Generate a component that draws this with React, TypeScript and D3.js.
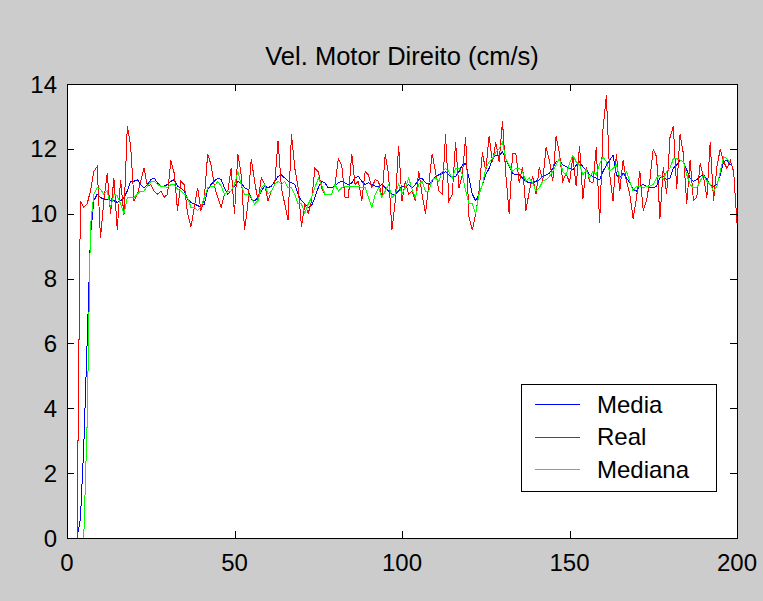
import * as d3 from "d3";

// samples 1..200
const real = [
  0, 0, 0, 10.4, 10.2, 10.3, 10.7, 11.3, 11.45, 9.25,
  10.4, 11.25, 10.0, 11.1, 9.5, 11.05, 9.95, 12.7, 12.1, 10.4,
  10.6, 11.0, 11.4, 10.85, 10.9, 10.7, 10.6, 10.7, 10.5, 10.6,
  11.65, 11.25, 10.1, 11.0, 10.9, 10.0, 9.6, 10.2, 10.8, 10.1,
  10.5, 11.85, 11.5, 10.85, 10.5, 10.2, 10.6, 10.7, 11.4, 10.0,
  11.85, 11.2, 9.5, 10.3, 11.7, 11.0, 10.4, 11.1, 10.9, 10.4,
  10.7, 10.9, 12.25, 10.8, 10.3, 9.8, 12.45, 11.4, 10.8, 9.6,
  10.3, 10.0, 10.4, 11.4, 11.3, 10.8, 10.6, 10.6, 10.6, 10.9,
  11.7, 11.5, 10.5, 10.5, 11.85, 10.9, 11.0, 10.4, 11.3, 11.2,
  10.8, 11.05, 11.0, 10.5, 11.85, 11.2, 9.5, 10.4, 12.1, 10.4,
  11.0, 10.6, 10.7, 10.4, 11.3, 10.6, 10.0, 10.9, 11.85, 11.3,
  10.7, 10.6, 12.45, 10.4, 10.6, 12.2, 10.8, 11.2, 12.35, 9.9,
  9.5, 10.0, 10.7, 11.9, 11.3, 12.4, 11.6, 12.2, 11.6, 12.85,
  11.2, 10.0, 11.85, 11.85, 10.95, 11.45, 10.1, 10.7, 11.15, 10.6,
  11.45, 11.0, 12.05, 11.65, 11.0, 12.4, 11.85, 11.0, 11.25, 10.95,
  11.75, 10.85, 12.1, 10.45, 11.45, 11.0, 10.95, 12.05, 9.7, 12.6,
  13.65, 11.2, 10.4, 11.85, 10.7, 11.65, 11.0, 10.6, 9.85, 10.5,
  11.3, 10.1, 10.4, 11.05, 12.0, 11.75, 9.85, 11.45, 10.6, 12.35,
  12.7, 10.75, 12.45, 11.85, 10.3, 11.65, 10.4, 10.5, 11.55, 11.15,
  10.5, 12.2, 10.4, 11.45, 12.0, 11.6, 11.4, 11.65, 11.3, 9.7,
];

const media = [
  0, 0, 0, 0.6, 2.8, 6.0, 9.3, 10.4, 10.6, 10.5,
  10.45, 10.45, 10.4, 10.4, 10.35, 10.4, 10.5, 10.7, 11.0, 11.0,
  11.05, 10.9, 10.8, 10.9, 11.05, 11.1, 10.95, 10.85, 10.85, 10.9,
  11.0, 11.05, 10.85, 10.8, 10.7, 10.45, 10.35, 10.3, 10.25, 10.2,
  10.3, 10.75, 10.9, 11.0, 11.1, 11.05, 10.8, 10.6, 10.7, 10.85,
  11.0, 10.95, 10.8, 10.75, 10.45, 10.4, 10.5, 10.7, 10.85, 10.8,
  10.85, 11.0, 11.15, 11.2, 11.1, 11.0, 10.95, 10.9, 10.6, 10.4,
  10.3, 10.2, 10.25, 10.5, 10.8, 11.0, 10.95, 10.8, 10.8, 10.85,
  10.95, 11.0, 10.95, 10.9, 10.95, 11.1, 11.15, 11.0, 10.9, 10.95,
  10.9, 10.85, 10.85, 10.9, 10.8, 10.7, 10.6, 10.6, 10.7, 10.85,
  10.85, 10.9, 10.8, 10.9, 11.05, 11.1, 10.95, 10.9, 11.0, 11.15,
  11.2, 11.25, 11.3, 11.2, 11.1, 11.15, 11.3, 11.5, 11.55, 11.1,
  10.6, 10.4, 10.6, 10.9, 11.2, 11.4, 11.7, 11.8, 11.8, 11.9,
  11.7, 11.45, 11.25, 11.2, 11.2, 11.1, 11.0, 10.95, 10.95, 11.0,
  11.05, 11.15, 11.2, 11.25, 11.4, 11.6, 11.65, 11.5, 11.45, 11.4,
  11.35, 11.5, 11.6, 11.45, 11.35, 11.2, 11.15, 11.1, 11.05, 11.3,
  11.5, 11.65, 11.8, 11.2, 11.1, 11.25, 11.1, 10.95, 10.75, 10.7,
  10.85, 10.9, 10.85, 10.8, 10.8, 10.85, 11.1, 11.15, 11.05, 11.1,
  11.4, 11.5, 11.65, 11.6, 11.35, 11.1, 11.0, 11.05, 11.15, 11.2,
  11.05, 10.9, 10.85, 10.9, 11.2, 11.6, 11.65, 11.5,
];

const mediana = [
  0, 0, 0, 0, 0, 3.5, 9.6, 10.6, 10.8, 10.75,
  10.6, 10.7, 10.2, 10.6, 10.55, 10.3, 10.0, 10.5, 10.5, 10.5,
  10.6, 10.7, 10.7, 10.85, 11.0, 11.0, 10.9, 10.85, 10.85, 10.8,
  10.9, 10.9, 10.75, 10.7, 10.6, 10.5, 10.2, 10.2, 10.1, 10.2,
  10.5, 10.8, 10.85, 10.85, 11.0, 10.85, 10.6, 10.7, 10.7, 10.9,
  11.3, 10.9, 10.6, 10.6, 10.5, 10.3, 10.4, 10.8, 10.9, 10.6,
  10.7, 10.9, 11.0, 10.9, 11.0, 10.8, 10.8, 10.6, 10.3, 10.3,
  10.0, 10.3, 10.5, 10.8, 11.1, 10.9, 10.6, 10.6, 10.6, 10.9,
  10.7, 10.8, 10.85, 10.85, 10.85, 10.85, 10.85, 10.8, 10.8, 10.5,
  10.2, 10.6, 10.8, 10.5, 10.7, 10.9, 10.5, 10.6, 10.9, 10.6,
  10.8, 11.1, 10.75, 10.5, 10.9, 11.0, 10.7, 10.7, 11.05, 11.1,
  11.0, 11.3, 11.4, 11.3, 11.1, 11.4, 11.4, 11.2, 10.7, 10.3,
  10.3, 10.0, 10.6, 10.9, 11.4, 11.6, 11.7, 11.9, 12.0, 12.2,
  11.7, 11.5, 11.3, 11.4, 11.4, 11.3, 11.0, 11.1, 10.95, 10.7,
  10.8, 11.0, 11.05, 11.15, 11.3, 11.5, 11.7, 11.3, 11.2, 11.55,
  11.8, 11.6, 11.5, 11.2, 11.35, 11.1, 11.3, 11.2, 11.55, 11.75,
  11.6, 11.3, 11.4, 11.5, 11.1, 11.2, 11.3, 11.0, 10.7, 10.85,
  10.85, 10.8, 10.85, 10.85, 10.9, 11.1, 11.2, 11.05, 11.3, 11.4,
  11.7, 11.7, 11.65, 11.6, 11.2, 10.9, 10.8, 10.8, 11.0, 11.2,
  11.0, 10.9, 10.7, 10.85, 11.3, 11.75, 11.7, 11.55,
];

const xTicks = [0, 50, 100, 150, 200];
const yTicks = [0, 2, 4, 6, 8, 10, 12, 14];
const legendItems = [
  { label: "Media", color: "#0000ff" },
  { label: "Real", color: "#ff0000" },
  { label: "Mediana", color: "#00ff00" },
];

export default function App() {
  const width = 763;
  const height = 601;
  const marginLeft = 67;
  const marginRight = 26;
  const marginTop = 84;
  const marginBottom = 63;
  const tick = 7;
  const font = "'Liberation Sans', Arial, Helvetica, sans-serif";

  const x = d3.scaleLinear().domain([0, 200]).range([marginLeft, width - marginRight]);
  const y = d3.scaleLinear().domain([0, 14]).range([height - marginBottom, marginTop]);

  const line = d3.line<number>()
    .x((d, i) => x(i + 1))
    .y(d => y(d));

  const [x0, x1] = x.range();
  const [y0, y1] = y.range();

  // legend box in the lower right corner
  const lgX = 521, lgY = 384, lgW = 195, lgH = 107;

  return (
    <svg width={width} height={height} style={{ position: "fixed", left: 0, top: 0 }} fontFamily={font}>
      <rect width={width} height={height} fill="#cccccc" />
      <rect x={x0} y={y1} width={x1 - x0} height={y0 - y1} fill="#ffffff" />

      <text x={(x0 + x1) / 2} y={65} textAnchor="middle" fontSize={25.5} fill="#000">
        Vel. Motor Direito (cm/s)
      </text>

      <g fill="none" strokeWidth={1} shapeRendering="crispEdges">
        <path d={line(media) ?? ""} stroke="#0000ff" />
        <path d={line(real) ?? ""} stroke="#ff0000" />
        <path d={line(mediana) ?? ""} stroke="#00ff00" />
      </g>

      <rect x={x0 + 0.5} y={y1 + 0.5} width={x1 - x0} height={y0 - y1} fill="none" stroke="#000" />

      {xTicks.map(t => (
        <g key={"x" + t}>
          <line x1={Math.round(x(t)) + 0.5} x2={Math.round(x(t)) + 0.5} y1={y0} y2={y0 - tick} stroke="#000" />
          <line x1={Math.round(x(t)) + 0.5} x2={Math.round(x(t)) + 0.5} y1={y1} y2={y1 + tick} stroke="#000" />
          <text x={x(t)} y={571} textAnchor="middle" fontSize={24}>{t}</text>
        </g>
      ))}
      {yTicks.map(t => (
        <g key={"y" + t}>
          <line x1={x0} x2={x0 + tick} y1={Math.round(y(t)) + 0.5} y2={Math.round(y(t)) + 0.5} stroke="#000" />
          <line x1={x1} x2={x1 - tick} y1={Math.round(y(t)) + 0.5} y2={Math.round(y(t)) + 0.5} stroke="#000" />
          <text x={57} y={y(t)} dy="0.36em" textAnchor="end" fontSize={24}>{t}</text>
        </g>
      ))}

      <g>
        <rect x={lgX + 0.5} y={lgY + 0.5} width={lgW} height={lgH} fill="#ffffff" stroke="#000" />
        {legendItems.map((d, i) => {
          const ly = lgY + 20 + i * 32.7;
          return (
            <g key={d.label}>
              <line x1={lgX + 14} x2={lgX + 59} y1={Math.round(ly) + 0.5} y2={Math.round(ly) + 0.5} stroke={d.color} shapeRendering="crispEdges" />
              <text x={lgX + 76} y={ly} dy="0.36em" fontSize={24}>{d.label}</text>
            </g>
          );
        })}
      </g>
    </svg>
  );
}
